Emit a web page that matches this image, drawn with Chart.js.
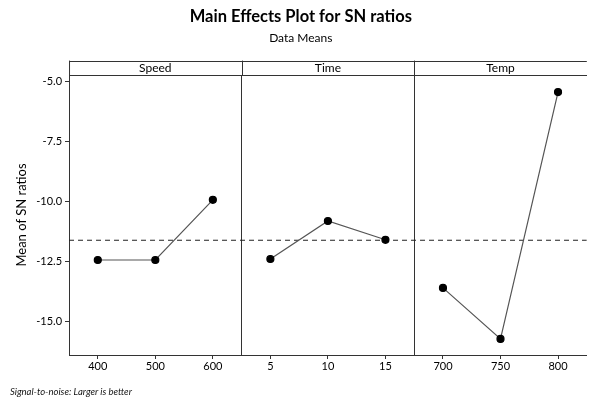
<!DOCTYPE html>
<html>
<head>
<meta charset="utf-8">
<script src="https://cdn.jsdelivr.net/npm/chart.js@4.4.1/dist/chart.umd.min.js"></script>
<style>
  body { margin: 0; background: #fff; }
  #wrap { position: relative; width: 592px; height: 404px; }
  #note {
    position: absolute; left: 10px; top: 386px;
    font: italic 9.5px Lato, sans-serif; color: #111;
  }
</style>
</head>
<body>
<div id="wrap">
  <canvas id="mainEffects"></canvas>
  <div id="note">Signal-to-noise: Larger is better</div>
</div>
<script>
// --- Data ---
const factorNames = ['Speed', 'Time', 'Temp'];
const speedLevels = ['400', '500', '600'];
const timeLevels = ['5', '10', '15'];
const tempLevels = ['700', '750', '800'];
const speedSN = [-12.44, -12.44, -9.94];
const timeSN = [-12.40, -10.82, -11.60];
const tempSN = [-13.60, -15.72, -5.46];
const overallMean = -11.62;
const yTicks = [-15.0, -12.5, -10.0, -7.5, -5.0];
const yMin = -16.39;
const yMax = -4.75;

const levelLabels = [...speedLevels, ...timeLevels, ...tempLevels];

// place one factor's values into its panel, gaps elsewhere
function panelData(values, panel) {
    const out = new Array(levelLabels.length).fill(null);
    values.forEach((v, i) => { out[panel * 3 + i] = v; });
    return out;
}

const lineStyle = {
    borderColor: '#555',
    borderWidth: 1.2,
    pointBackgroundColor: '#000',
    pointBorderColor: '#000',
    pointRadius: 3.5,
    spanGaps: false,
    tension: 0
};

const frameColor = '#333';
const font = 'Lato, "Open Sans", sans-serif';

// panels run to the canvas edge, so drop the label padding on the x scales
const noSidePadding = scale => { scale.paddingLeft = 0; scale.paddingRight = 0; };

// strip header box: top line + separators between factor panels
const stripFrame = {
    id: 'stripFrame',
    afterDraw(chart) {
        const { ctx, chartArea } = chart;
        const strip = chart.scales.x2;
        const n = strip.ticks.length;
        const half = (strip.getPixelForTick(1) - strip.getPixelForTick(0)) / 2;
        ctx.save();
        ctx.strokeStyle = frameColor;
        ctx.lineWidth = 1;
        ctx.beginPath();
        ctx.moveTo(chartArea.left, Math.round(strip.top) + 0.5);
        ctx.lineTo(chartArea.right, Math.round(strip.top) + 0.5);
        for (let i = 3; i < n; i += 3) {
            const x = Math.round(strip.getPixelForTick(i) - half) + 0.5;
            ctx.moveTo(x, strip.top);
            ctx.lineTo(x, strip.bottom);
        }
        ctx.moveTo(chartArea.left + 0.5, strip.top);
        ctx.lineTo(chartArea.left + 0.5, strip.bottom);
        ctx.stroke();
        ctx.restore();
    }
};

const ctx = document.getElementById('mainEffects').getContext('2d');
new Chart(ctx, {
    type: 'line',
    data: {
        labels: levelLabels,
        datasets: [
            { label: 'Speed', data: panelData(speedSN, 0), ...lineStyle },
            { label: 'Time', data: panelData(timeSN, 1), ...lineStyle },
            { label: 'Temp', data: panelData(tempSN, 2), ...lineStyle },
            {
                label: 'Mean',
                xAxisID: 'xl',
                data: [{ x: 0, y: overallMean }, { x: 1, y: overallMean }],
                borderColor: '#222',
                borderWidth: 1.2,
                borderDash: [5, 4],
                pointRadius: 0
            }
        ]
    },
    options: {
        responsive: true,
        maintainAspectRatio: false,
        animation: false,
        layout: { padding: { left: 9.6, right: 0, top: 0, bottom: 29.8 } },
        plugins: {
            legend: { display: false },
            tooltip: { enabled: false },
            title: {
                display: true,
                text: 'Main Effects Plot for SN ratios',
                color: '#000',
                font: { family: font, size: 16.5, weight: 'bold' },
                padding: { top: 7, bottom: 3 }
            },
            subtitle: {
                display: true,
                text: 'Data Means',
                color: '#000',
                font: { family: font, size: 12 },
                padding: { top: 1, bottom: 15.4 }
            }
        },
        scales: {
            x: {
                type: 'category',
                position: 'bottom',
                offset: true,
                afterFit: noSidePadding,
                grid: { display: true, drawOnChartArea: false, offset: false, tickLength: 4, color: frameColor },
                border: { display: true, color: frameColor, width: 1 },
                ticks: { color: '#000', font: { family: font, size: 11 }, padding: 1, maxRotation: 0, autoSkip: false }
            },
            x2: {
                type: 'category',
                position: 'top',
                offset: true,
                afterFit: noSidePadding,
                grid: {
                    display: true,
                    offset: true,
                    drawTicks: false,
                    color: c => (c.index % 3 === 0 ? frameColor : 'rgba(0,0,0,0)')
                },
                border: { display: true, color: frameColor, width: 1 },
                ticks: {
                    color: '#000',
                    font: { family: font, size: 12 },
                    padding: 0,
                    maxRotation: 0,
                    autoSkip: false,
                    callback: (v, i) => (i % 3 === 1 ? factorNames[Math.floor(i / 3)] : '')
                }
            },
            // hidden 0..1 axis so the mean line spans the whole plot width
            xl: {
                type: 'linear',
                display: false,
                min: 0,
                max: 1,
                afterFit: noSidePadding,
                ticks: { display: false }
            },
            y: {
                min: yMin,
                max: yMax,
                afterBuildTicks: scale => { scale.ticks = yTicks.map(v => ({ value: v })); },
                grid: { display: true, drawOnChartArea: false, tickLength: 4, color: frameColor },
                border: { display: true, color: frameColor, width: 1 },
                ticks: {
                    color: '#000',
                    font: { family: font, size: 11 },
                    padding: 3,
                    callback: v => v.toFixed(1)
                },
                title: {
                    display: true,
                    text: 'Mean of SN ratios',
                    color: '#000',
                    font: { family: font, size: 13 },
                    padding: { top: 4, bottom: 4 }
                }
            }
        }
    },
    plugins: [stripFrame]
});
</script>
</body>
</html>
